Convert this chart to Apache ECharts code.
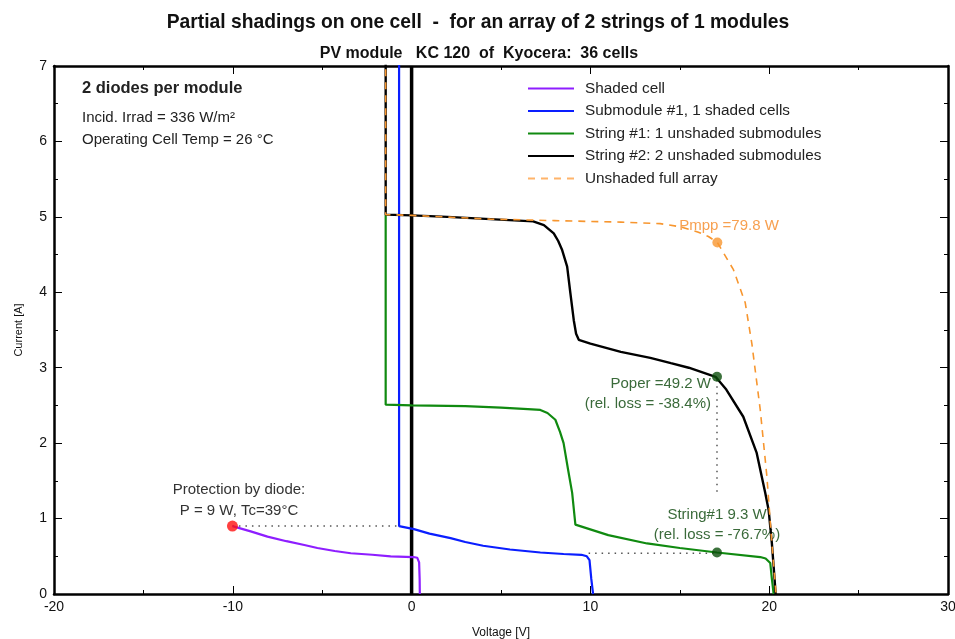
<!DOCTYPE html>
<html><head><meta charset="utf-8">
<script src="https://cdn.jsdelivr.net/npm/echarts@6/dist/echarts.min.js"></script>
<style>html,body{margin:0;padding:0;background:#fff}#c{width:955px;height:639px}</style>
</head><body><div id="c"></div>
<script>
// ---- data (Voltage [V], Current [A]) ----
const shadedCell = [[-10.02,0.90],[-9,0.83],[-8.06,0.76],[-7,0.70],[-6,0.65],[-5.27,0.61],[-4.3,0.57],[-3.4,0.54],[-2.2,0.52],[-1.17,0.50],[0.1,0.49],[0.32,0.48],[0.42,0.42],[0.45,0.2],[0.46,0]];
const submodule1 = [[-0.7,7.3],[-0.7,0.90],[0.13,0.86],[1,0.80],[2.18,0.74],[3,0.69],[4,0.64],[5.5,0.59],[7.2,0.55],[8.5,0.53],[9.5,0.52],[9.8,0.50],[9.95,0.45],[10.05,0.2],[10.15,0]];
const string1 = [[-1.45,5.03],[-1.45,2.51],[0,2.50],[3,2.49],[5,2.47],[6.5,2.45],[7.2,2.44],[7.6,2.40],[8.04,2.31],[8.3,2.15],[8.5,2.0],[8.75,1.65],[8.98,1.34],[9.16,0.92],[11,0.78],[13.17,0.67],[15,0.61],[17.08,0.55],[19.5,0.49],[19.8,0.47],[20.06,0.41],[20.15,0.2],[20.25,0]];
const string2 = [[-1.45,7.3],[-1.45,5.03],[0,5.02],[2,5.0],[4.4,4.97],[6.8,4.94],[7.4,4.89],[7.95,4.78],[8.2,4.68],[8.42,4.56],[8.7,4.34],[8.88,3.99],[9.07,3.63],[9.2,3.45],[9.35,3.37],[10,3.32],[11.7,3.21],[13.35,3.13],[14.5,3.06],[15.5,3.0],[17.0,2.88],[17.6,2.71],[18.55,2.35],[19.3,1.87],[19.78,1.34],[19.97,1.11],[20.15,0.67],[20.3,0.2],[20.36,0]];
const unshadedArray = [[-1.45,7.3],[-1.45,5.03],[0,5.02],[4.4,4.97],[8,4.95],[11.7,4.93],[13.9,4.91],[15,4.87],[16,4.80],[16.6,4.74],[17.1,4.66],[18.0,4.30],[18.66,3.86],[19.03,3.32],[19.5,2.44],[19.87,1.56],[20.15,0.67],[20.38,0]];
const zeroLine = [[0,0],[0,7]];
const protectionPoint = [[-10.02,0.90]];
const pmppPoint = [[17.1,4.66]];
const operPoints = [[17.08,2.88],[17.08,0.55]];
const dotDiode = [[-10.02,0.90],[-0.7,0.90]];
const dotOperV = [[17.08,2.84],[17.08,1.29]];
const dotString1 = [[9.9,0.54],[17.08,0.54]];
const xTicks = [-20,-10,0,10,20,30];
const seriesNames = ['Shaded cell','Submodule #1, 1 shaded cells','String #1: 1 unshaded submodules','String #2: 2 unshaded submodules','Unshaded full array'];

const NARROW = '"Liberation Sans Narrow","Arial Narrow","Liberation Sans",sans-serif';
const SANS = '"Liberation Sans",Arial,sans-serif';

const chart = echarts.init(document.getElementById('c'), null, {renderer:'canvas'});
function xAx(pos, showLabel){
  return {type:'value', position:pos, min:-20, max:30, interval:10,
    axisLine:{show:true, onZero:false, lineStyle:{color:'#000', width:2.5}},
    axisTick:{show:true, inside:true, length:8, lineStyle:{color:'#000', width:1}},
    minorTick:{show:true, splitNumber:2, length:4, lineStyle:{color:'#000', width:1}},
    splitLine:{show:false},
    axisLabel:{show:showLabel, color:'#111', fontFamily:NARROW, fontSize:14, margin:6,
      formatter: v => xTicks.includes(v) ? String(v) : ''},
    name: showLabel ? 'Voltage [V]' : '', nameLocation:'middle', nameGap:33,
    nameTextStyle:{color:'#111', fontFamily:NARROW, fontSize:12}
  };
}
function yAx(pos, showLabel){
  return {type:'value', position:pos, min:0, max:7, interval:1,
    axisLine:{show:true, onZero:false, lineStyle:{color:'#000', width:2.5}},
    axisTick:{show:true, inside:true, length:8, lineStyle:{color:'#000', width:1}},
    minorTick:{show:true, splitNumber:2, length:4, lineStyle:{color:'#000', width:1}},
    splitLine:{show:false},
    axisLabel:{show:showLabel, color:'#111', fontFamily:NARROW, fontSize:14, margin:7},
    name: showLabel ? 'Current [A]' : '', nameLocation:'middle', nameGap:30, nameRotate:90,
    nameTextStyle:{color:'#111', fontFamily:NARROW, fontSize:11}
  };
}
function lineS(name, data, color, width, extra){
  return Object.assign({name, type:'line', data, symbol:'none', showSymbol:false, clip:true,
    lineStyle:{color, width}, itemStyle:{color}, animation:false, z:3}, extra||{});
}
function dotted(data){
  return {type:'line', data, symbol:'none', lineStyle:{color:'#555', width:1.5, type:[1.5,5]}, animation:false, z:2, silent:true};
}
function pts(data, color, size){
  return {type:'scatter', data, symbol:'circle', symbolSize:size, itemStyle:{color}, animation:false, z:6, silent:true};
}
const legendData = seriesNames.map((n,i) => i===4 ? {name:n, lineStyle:{color:'#FFB46A'}} : {name:n});

chart.setOption({
  backgroundColor:'#fff',
  animation:false,
  title:[
    {text:'Partial shadings on one cell  -  for an array of 2 strings of 1 modules', left:473, top:8, textAlign:'center',
     textStyle:{fontFamily:SANS, fontSize:19.3, fontWeight:'bold', color:'#111'}},
    {text:'PV module   KC 120  of  Kyocera:  36 cells', left:474, top:41, textAlign:'center',
     textStyle:{fontFamily:SANS, fontSize:16, fontWeight:'bold', color:'#111'}}
  ],
  grid:{left:54, right:7, top:66, bottom:45, containLabel:false, outerBoundsMode:'none'},
  xAxis:[xAx('bottom', true), xAx('top', false)],
  yAxis:[yAx('left', true), yAx('right', false)],
  legend:{orient:'vertical', left:527, top:81, padding:0, itemWidth:46, itemHeight:12, itemGap:7.5,
    data:legendData, selectedMode:false, itemStyle:{opacity:0},
    textStyle:{fontFamily:SANS, fontSize:15.3, color:'#222', padding:[0,0,0,6]}},
  series:[
    lineS('zero', zeroLine, '#000', 3.5, {legendHoverLink:false}),
    dotted(dotDiode), dotted(dotOperV), dotted(dotString1),
    lineS(seriesNames[0], shadedCell, '#8E1EFF', 2.2),
    lineS(seriesNames[1], submodule1, '#0A1EFF', 2.2),
    lineS(seriesNames[2], string1, '#108A10', 2.2),
    lineS(seriesNames[3], string2, '#000000', 2.4),
    lineS(seriesNames[4], unshadedArray, '#F7962F', 1.6, {lineStyle:{color:'#F7962F', width:1.6, type:[7,6]}, z:4}),
    pts(protectionPoint, '#FF1010', 11),
    pts(pmppPoint, '#F7962F', 10),
    pts(operPoints, '#0B4F0B', 10)
  ],
  graphic:[
    {type:'text', left:82, top:80, style:{text:'2 diodes per module', font:'bold 16.5px '+SANS, fill:'#222'}},
    {type:'text', left:82, top:110, style:{text:'Incid. Irrad = 336 W/m²', font:'15px '+SANS, fill:'#222'}},
    {type:'text', left:82, top:132, style:{text:'Operating Cell Temp = 26 °C', font:'15px '+SANS, fill:'#222'}},
    {type:'text', x:729, y:226, style:{text:'Pmpp =79.8 W', font:'15px '+SANS, fill:'#F7A050', align:'center', verticalAlign:'middle'}},
    {type:'text', x:711, y:384, style:{text:'Poper =49.2 W', font:'15px '+SANS, fill:'#3A6A3A', align:'right', verticalAlign:'middle'}},
    {type:'text', x:711, y:404, style:{text:'(rel. loss = -38.4%)', font:'15px '+SANS, fill:'#3A6A3A', align:'right', verticalAlign:'middle'}},
    {type:'text', x:717, y:515, style:{text:'String#1 9.3 W', font:'15px '+SANS, fill:'#3A6A3A', align:'center', verticalAlign:'middle'}},
    {type:'text', x:717, y:535, style:{text:'(rel. loss = -76.7%)', font:'15px '+SANS, fill:'#3A6A3A', align:'center', verticalAlign:'middle'}},
    {type:'text', x:239, y:490, style:{text:'Protection by diode:', font:'15px '+SANS, fill:'#333', align:'center', verticalAlign:'middle'}},
    {type:'text', x:239, y:511, style:{text:'P = 9 W, Tc=39°C', font:'15px '+SANS, fill:'#333', align:'center', verticalAlign:'middle'}}
  ]
});
</script></body></html>
